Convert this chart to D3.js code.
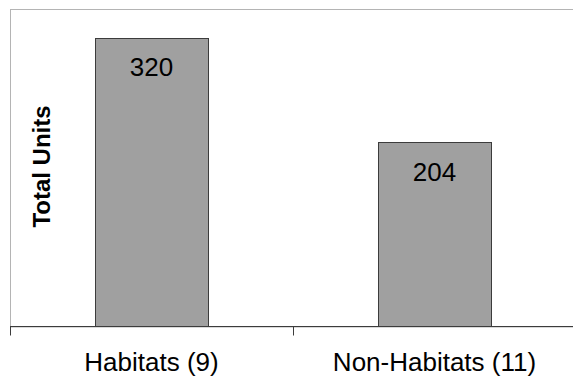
<!DOCTYPE html>
<html>
<head>
<meta charset="utf-8">
<script src="https://cdn.jsdelivr.net/npm/d3@7"></script>
<style>
  html, body { margin: 0; padding: 0; background: #fff; }
  svg { display: block; }
  text { font-family: "Liberation Sans", Arial, sans-serif; fill: #000; }
</style>
</head>
<body>
<svg id="chart" width="573" height="379"></svg>
<script>
const categories = ["Habitats (9)", "Non-Habitats (11)"];
const values = [320, 204];
const yAxisTitle = "Total Units";

const W = 573, H = 379;
const plot = { left: 10, top: 9, right: 576, bottom: 326.5 };

const svg = d3.select("#chart");

const x = d3.scaleBand().domain(categories).range([plot.left, plot.right]).padding(0);
const y = d3.scaleLinear().domain([0, 352]).range([plot.bottom, plot.top]);
const barW = x.bandwidth() * 0.4;

// plot frame
svg.append("rect")
  .attr("x", plot.left + 0.5).attr("y", plot.top + 0.5)
  .attr("width", plot.right - plot.left).attr("height", plot.bottom - plot.top)
  .attr("fill", "none").attr("stroke", "#b4b4b4").attr("stroke-width", 1);

// bars
svg.selectAll("rect.bar").data(values).enter().append("rect")
  .attr("class", "bar")
  .attr("x", (d, i) => Math.round(x(categories[i]) + (x.bandwidth() - barW) / 2) + 0.5)
  .attr("y", d => Math.round(y(d)) + 0.5)
  .attr("width", Math.round(barW))
  .attr("height", d => plot.bottom - Math.round(y(d)) - 0.5)
  .attr("fill", "#a0a0a0").attr("stroke", "#3c3c3c").attr("stroke-width", 1);

// value labels
svg.selectAll("text.val").data(values).enter().append("text")
  .attr("class", "val")
  .attr("x", (d, i) => x(categories[i]) + x.bandwidth() / 2)
  .attr("y", d => y(d) + 38.5)
  .attr("text-anchor", "middle")
  .style("font-size", "26px")
  .text(d => d);

// x axis
const xAxis = d3.axisBottom(x).tickSize(9).tickSizeOuter(0).tickFormat("");
const gx = svg.append("g").attr("transform", `translate(0,${plot.bottom})`).call(xAxis);
gx.select(".domain").remove();
gx.selectAll(".tick").remove();
gx.append("line").attr("x1", plot.left).attr("x2", W).attr("y1", 0).attr("y2", 0)
  .attr("stroke", "#3c3c3c").attr("stroke-width", 1.2);
// ticks at band boundaries
const boundaries = categories.map(c => x(c)).concat([x.range()[1]]);
gx.selectAll("line.bt").data(boundaries).enter().append("line")
  .attr("class", "bt")
  .attr("x1", d => Math.round(d) + 0.5).attr("x2", d => Math.round(d) + 0.5)
  .attr("y1", 0).attr("y2", 9)
  .attr("stroke", "#3c3c3c").attr("stroke-width", 1);

// category labels
svg.selectAll("text.cat").data(categories).enter().append("text")
  .attr("class", "cat")
  .attr("x", d => x(d) + x.bandwidth() / 2)
  .attr("y", 371)
  .attr("text-anchor", "middle")
  .style("font-size", "26px")
  .text(d => d);

// y axis title
svg.append("text")
  .attr("transform", "translate(50,166.5) rotate(-90)")
  .attr("text-anchor", "middle")
  .style("font-size", "24px").style("font-weight", "bold")
  .text(yAxisTitle);
</script>
</body>
</html>
